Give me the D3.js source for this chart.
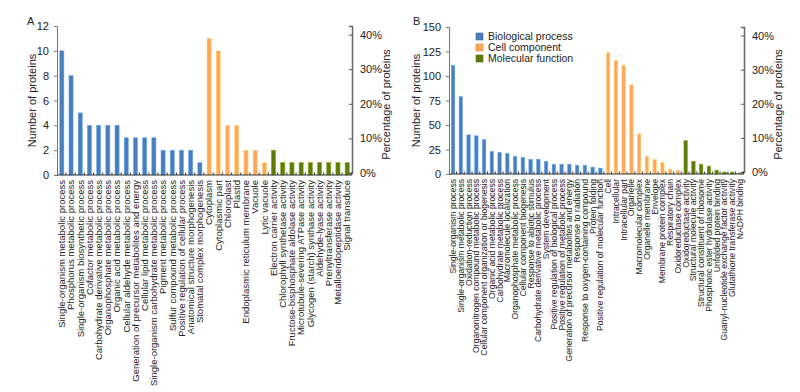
<!DOCTYPE html>
<html>
<head>
<meta charset="utf-8">
<script src="https://d3js.org/d3.v7.min.js"></script>
<style>
  body { margin: 0; background: #fff; }
  text { font-family: Arial, "Liberation Sans", sans-serif; }
</style>
</head>
<body>
<div id="chart"></div>
<script>
const W = 800, H = 392

const colors = { BP: '#4a7ebb', CC: '#ffa65a', MF: '#5e7c0a' }
const groupNames = ['Biological process', 'Cell component', 'Molecular function']

// panel A
const aBP = ['Single-organism metabolic process', 'Phosphorus metabolic process', 'Single-organism biosynthetic process',
  'Cofactor metabolic process', 'Carbohydrate derivative metabolic process', 'Organophosphate metabolic process',
  'Organic acid metabolic process', 'Cellular aldehyde metabolic process', 'Generation of precursor metabolites and energy',
  'Cellular lipid metabolic process', 'Single-organism carbohydrate metabolic process', 'Pigment metabolic process',
  'Sulfur compound metabolic process', 'Positive regulation of cellular process', 'Anatomical structure morphogenesis',
  'Stomatal complex morphogenesis']
const aBPval = [10, 8, 5, 4, 4, 4, 4, 3, 3, 3, 3, 2, 2, 2, 2, 1]
const aCC = ['Cytoplasm', 'Cytoplasmic part', 'Chloroplast', 'Plastid', 'Endoplasmic reticulum membrane', 'Vacuole', 'Lytic vacuole']
const aCCval = [11, 10, 4, 4, 2, 2, 1]
const aMF = ['Electron carrier activity', 'Chlorophyll synthetase activity', 'Fructose-bisphosphate aldolase activity',
  'Microtubule-severing ATPase activity', 'Glycogen (starch) synthase activity', 'Aldehyde-lyase activity',
  'Prenyltransferase activity', 'Metalloendopeptidase activity', 'Signal transduce']
const aMFval = [2, 1, 1, 1, 1, 1, 1, 1, 1]
const aTicks = [0, 2, 4, 6, 8, 10, 12]

// panel B
const bBP = ['Single-organism process', 'Single-organism metabolic process', 'Oxidation-reduction process',
  'Organonitrogen compound metabolic process', 'Cellular component organization or biogenesis',
  'Organic acid metabolic process', 'Carbohydrate metabolic process', 'Macromolecule localization',
  'Organophosphate metabolic process', 'Cellular component biogenesis', 'Response to abiotic stimulus',
  'Carbohydrate derivative metabolic process', 'System development', 'Positive regulation of biological process',
  'Positive regulation of metabolic process', 'Generation of precursor metabolites and energy',
  'Response to radiation', 'Response to oxygen-containing compound', 'Protein folding',
  'Positive regulation of molecular function']
const bBPval = [111, 79, 40, 39, 35, 23, 22, 21, 18, 17, 15, 15, 13, 10, 10, 10, 9, 9, 7, 6]
const bCC = ['Cell', 'Intracellular', 'Intracellular part', 'Organelle', 'Macromolecular complex', 'Organelle membrane',
  'Envelope', 'Membrane protein complex', 'Respiratory chain', 'Oxidoreductase complex']
const bCCval = [124, 116, 111, 91, 41, 18, 15, 12, 5, 4]
const bMF = ['Oxidoreductase activity', 'Structural molecule activity', 'Structural constituent of ribosome',
  'Phosphoric ester hydrolase activity', 'Unfolded protein binding', 'Guanyl-nucleotide exchange factor activity',
  'Glutathione transferase activity', 'NADPH binding']
const bMFval = [34, 13, 10, 8, 4, 2, 2, 1]
const bTicks = [0, 25, 50, 75, 100, 125, 150]

const pctTicks = [0, 10, 20, 30, 40]

let build = (bp, bpv, cc, ccv, mf, mfv) => [].concat(
  bp.map((n, i) => ({ name: n, v: bpv[i], g: 'BP' })),
  cc.map((n, i) => ({ name: n, v: ccv[i], g: 'CC' })),
  mf.map((n, i) => ({ name: n, v: mfv[i], g: 'MF' })))

const svg = d3.select('#chart').append('svg').attr('width', W).attr('height', H)

let panel = (opt) => {
  const data = opt.data
  const x = d3.scaleBand().domain(data.map(d => d.name)).range([opt.x0, opt.x1]).paddingInner(0.55).paddingOuter(0.3)
  const y = d3.scaleLinear().domain([0, opt.max]).range([opt.y0, opt.y1])
  const yr = d3.scaleLinear().domain([0, opt.pmax]).range([opt.y0 - 2, opt.y1])
  const g = svg.append('g')

  g.selectAll('rect.bar').data(data).enter().append('rect')
    .attr('class', 'bar')
    .attr('x', d => x(d.name))
    .attr('y', d => y(d.v))
    .attr('width', x.bandwidth())
    .attr('height', d => y(0) - y(d.v))
    .attr('fill', d => colors[d.g])
    .attr('stroke', d => d3.color(colors[d.g]).brighter(0.8))
    .attr('stroke-width', 0.5)

  // left axis
  const la = g.append('g').attr('transform', `translate(${opt.x0},0)`)
    .call(d3.axisLeft(y).tickValues(opt.ticks).tickSize(3).tickPadding(5))
  la.selectAll('text').attr('font-size', 11).attr('fill', '#222').style('font-family', 'Arial, "Liberation Sans", sans-serif')
  la.selectAll('line, path').attr('stroke', '#777')

  // right axis
  const ra = g.append('g').attr('transform', `translate(${opt.x1},0)`)
    .call(d3.axisRight(yr).tickValues(pctTicks).tickFormat(d => d + '%').tickSize(-3).tickPadding(8))
  ra.selectAll('text').attr('font-size', 11).attr('fill', '#222').style('font-family', 'Arial, "Liberation Sans", sans-serif')
  ra.selectAll('line').attr('stroke', '#555')
  ra.select('path').attr('stroke', '#666').attr('stroke-width', 1.5)

  // bottom axis with little category ticks
  const step = x.step()
  g.append('line').attr('x1', opt.x0).attr('x2', opt.x1).attr('y1', y(0)).attr('y2', y(0))
    .attr('stroke', '#333').attr('stroke-width', 1)
  g.selectAll('line.ct').data(data).enter().append('line')
    .attr('class', 'ct')
    .attr('x1', d => x(d.name) + x.bandwidth() + step * 0.22)
    .attr('x2', d => x(d.name) + x.bandwidth() + step * 0.22)
    .attr('y1', y(0)).attr('y2', y(0) - 2.5)
    .attr('stroke', '#333')

  g.selectAll('text.cat').data(data).enter().append('text')
    .attr('class', 'cat')
    .attr('transform', d => `translate(${x(d.name) + x.bandwidth() / 2 + opt.fs * 0.35},${y(0) + 5}) rotate(-90)`)
    .attr('text-anchor', 'end')
    .attr('font-size', opt.fs)
    .attr('fill', '#222')
    .text(d => d.name)

  // axis titles
  g.append('text')
    .attr('transform', `translate(${opt.lx},${(opt.y0 + opt.y1) / 2}) rotate(-90)`)
    .attr('text-anchor', 'middle').attr('font-size', 11).attr('fill', '#222')
    .text('Number of proteins')
  g.append('text')
    .attr('transform', `translate(${opt.rx},${(opt.y0 + opt.y1) / 2 + 4}) rotate(-90)`)
    .attr('text-anchor', 'middle').attr('font-size', 11).attr('fill', '#222')
    .text('Percentage of proteins')
  g.append('text').attr('x', opt.tx).attr('y', 25).attr('font-size', 11).attr('fill', '#222').text(opt.title)
  return g
}

panel({
  data: build(aBP, aBPval, aCC, aCCval, aMF, aMFval), max: 12, ticks: aTicks, pmax: 42.5,
  x0: 57, x1: 352, y0: 175, y1: 26, fs: 9.5, lx: 36, rx: 390, tx: 27, title: 'A'
})
const gB = panel({
  data: build(bBP, bBPval, bCC, bCCval, bMF, bMFval), max: 150, ticks: bTicks, pmax: 42.5,
  x0: 449, x1: 744, y0: 174, y1: 27, fs: 8.6, lx: 420, rx: 782, tx: 413, title: 'B'
})

// legend
const lg = gB.append('g').attr('transform', 'translate(476,33)')
groupNames.forEach((n, i) => {
  const k = ['BP', 'CC', 'MF'][i]
  lg.append('rect').attr('x', 0).attr('y', i * 11).attr('width', 7).attr('height', 7)
    .attr('fill', colors[k]).attr('stroke', d3.color(colors[k]).darker(0.5)).attr('stroke-width', 0.6)
  lg.append('text').attr('x', 12).attr('y', i * 11 + 7).attr('font-size', 10.5).attr('fill', '#222').text(n)
})
</script>
</body>
</html>
